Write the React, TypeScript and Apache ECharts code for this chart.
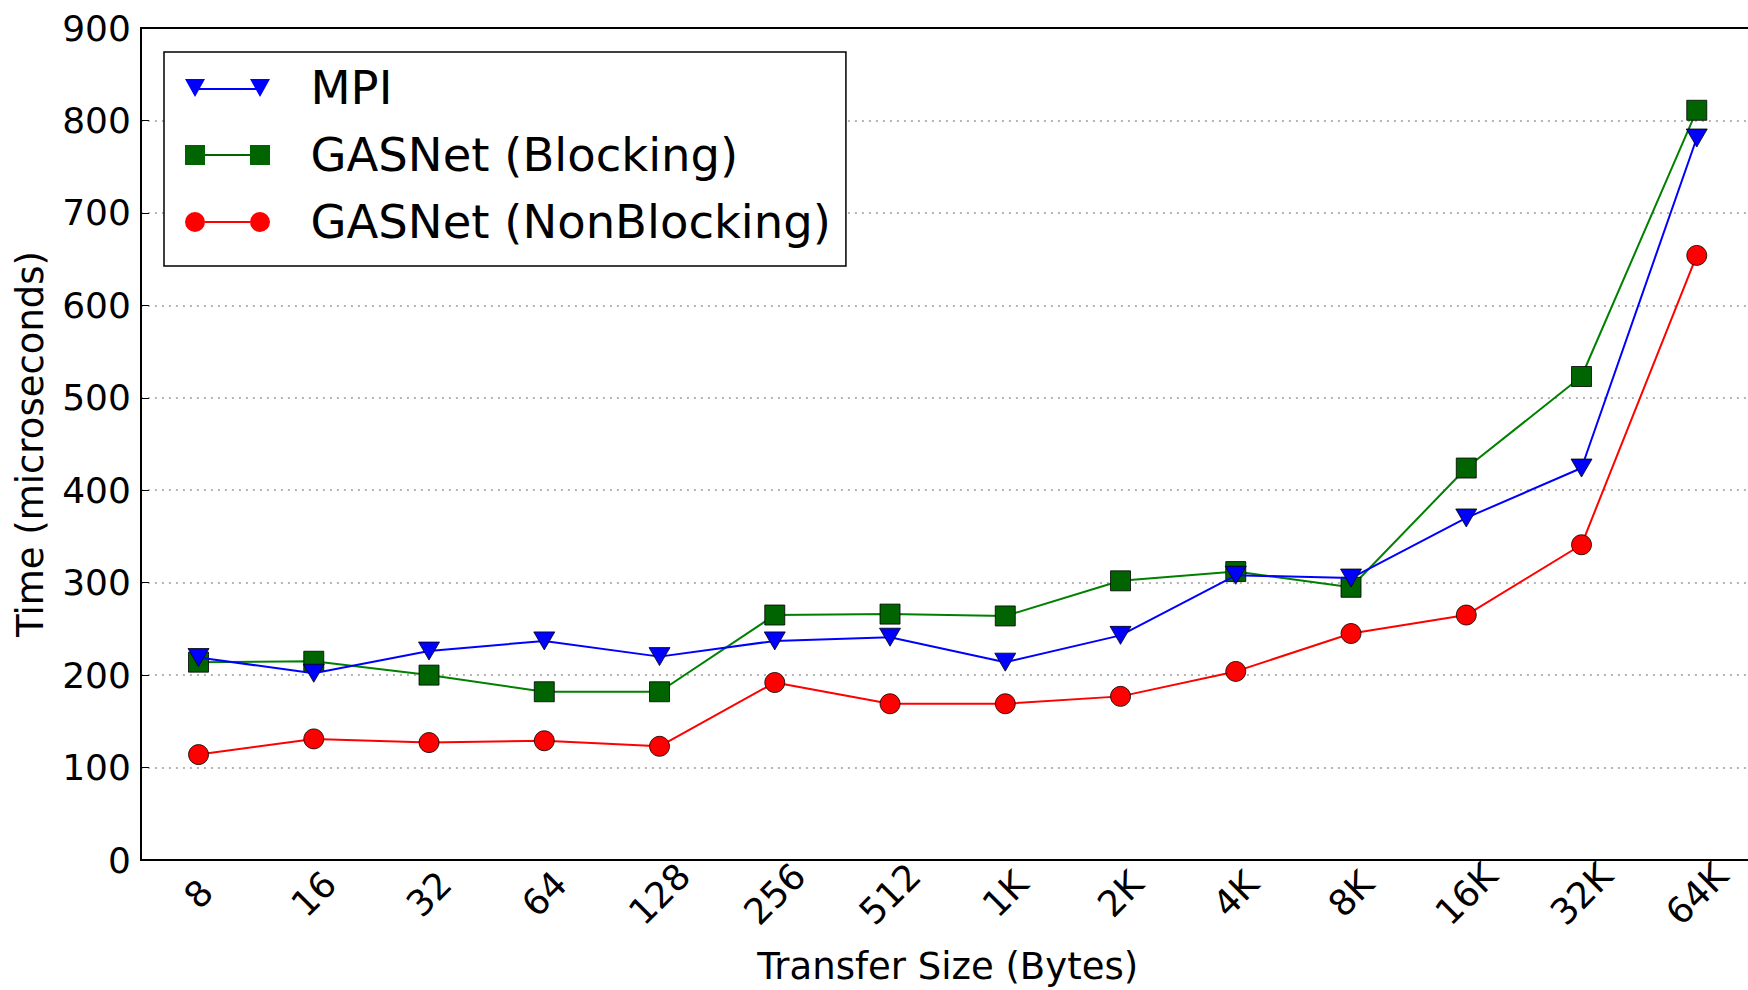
import React, { useEffect, useRef } from "react";
import * as echarts from "echarts";

const categories = ["8", "16", "32", "64", "128", "256", "512", "1K", "2K", "4K", "8K", "16K", "32K", "64K"];
const mpi = [219, 202, 226, 237, 220, 237, 241, 214, 243, 308, 305, 370, 424, 781];
const gasnetBlocking = [214, 215, 200, 182, 182, 265, 266, 264, 302, 312, 295, 424, 523, 811];
const gasnetNonBlocking = [114, 131, 127, 129, 123, 192, 169, 169, 177, 204, 245, 265, 341, 654];
const yTicks = { min: 0, max: 900, interval: 100 };

const FONT = "DejaVu Sans";

const triIcon = "path://M0,0 L20,0 L10,18 Z M10,9 L75,9 L75,11 L10,11 Z M65,0 L85,0 L75,18 Z";
const sqIcon = "path://M0,0 L20,0 L20,20 L0,20 Z M20,9 L65,9 L65,11 L20,11 Z M65,0 L85,0 L85,20 L65,20 Z";
const cirIcon =
  "path://M0,10 A10,10 0 1,0 20,10 A10,10 0 1,0 0,10 Z M20,9 L65,9 L65,11 L20,11 Z M65,10 A10,10 0 1,0 85,10 A10,10 0 1,0 65,10 Z";

export default function App() {
  const ref = useRef<HTMLDivElement>(null);
  useEffect(() => {
    if (!ref.current) return;
    const chart = echarts.init(ref.current, undefined, { renderer: "svg" });
    chart.setOption({
      animation: false,
      backgroundColor: "#ffffff",
      textStyle: { fontFamily: FONT },
      grid: { left: 140.9, top: 28, right: 1.6, bottom: 127.4, containLabel: false },
      legend: {
        orient: "vertical",
        left: 164,
        top: 52,
        padding: [11, 15, 19, 21],
        itemGap: 17,
        itemWidth: 85,
        itemHeight: 20,
        borderColor: "#000",
        borderWidth: 1.5,
        borderRadius: 0,
        backgroundColor: "#fff",
        itemStyle: { borderWidth: 0 },
        textStyle: { fontSize: 46.5, color: "#000", fontFamily: FONT, lineHeight: 50, padding: [0, 0, 0, 35.5] },
        data: [
          { name: "MPI", icon: triIcon },
          { name: "GASNet (Blocking)", icon: sqIcon },
          { name: "GASNet (NonBlocking)", icon: cirIcon },
        ],
      },
      xAxis: [
        {
          type: "category",
          data: categories,
          boundaryGap: true,
          name: "Transfer Size (Bytes)",
          nameLocation: "middle",
          nameGap: 88,
          nameTextStyle: { fontSize: 37, color: "#000", fontFamily: FONT },
          axisLine: { lineStyle: { color: "#000", width: 2 } },
          axisTick: { inside: true, alignWithLabel: true, length: 8, lineStyle: { color: "#000", width: 1 } },
          axisLabel: {
            rotate: 45,
            align: "center",
            verticalAlign: "middle",
            margin: 34,
            fontSize: 36,
            color: "#000",
            fontFamily: FONT,
            interval: 0,
          },
          splitLine: { show: false },
        },
        {
          type: "category",
          data: categories,
          position: "top",
          boundaryGap: true,
          axisLine: { lineStyle: { color: "#000", width: 2 } },
          axisTick: { inside: true, alignWithLabel: true, length: 8, lineStyle: { color: "#000", width: 1 } },
          axisLabel: { show: false },
          splitLine: { show: false },
        },
      ],
      yAxis: {
        type: "value",
        min: yTicks.min,
        max: yTicks.max,
        interval: yTicks.interval,
        name: "Time (microseconds)",
        nameLocation: "middle",
        nameGap: 92,
        nameTextStyle: { fontSize: 37, color: "#000", fontFamily: FONT },
        axisLine: { show: true, lineStyle: { color: "#000", width: 2 } },
        axisTick: { show: true, inside: true, length: 8, lineStyle: { color: "#000", width: 1 } },
        axisLabel: { fontSize: 36, color: "#000", fontFamily: FONT, margin: 10 },
        splitLine: { show: true, lineStyle: { color: "#9a9a9a", width: 1.5, type: [2, 5] } },
      },
      series: [
        {
          name: "MPI",
          type: "line",
          data: mpi,
          symbol: "triangle",
          symbolRotate: 180,
          symbolSize: [21, 18],
          lineStyle: { color: "#0000ff", width: 2 },
          itemStyle: { color: "#0000ff", borderColor: "#000", borderWidth: 0.8 },
          z: 3,
        },
        {
          name: "GASNet (Blocking)",
          type: "line",
          data: gasnetBlocking,
          symbol: "rect",
          symbolSize: 20,
          lineStyle: { color: "#008000", width: 2 },
          itemStyle: { color: "#006400", borderColor: "#000", borderWidth: 0.8 },
          z: 2,
        },
        {
          name: "GASNet (NonBlocking)",
          type: "line",
          data: gasnetNonBlocking,
          symbol: "circle",
          symbolSize: 20,
          lineStyle: { color: "#ff0000", width: 2 },
          itemStyle: { color: "#ff0000", borderColor: "#000", borderWidth: 0.8 },
          z: 4,
        },
      ],
    });
    return () => chart.dispose();
  }, []);
  return (
    <div style={{ width: 1748, height: 990, position: "absolute", left: 0, top: 0, overflow: "hidden" }}>
      <div ref={ref} style={{ width: 1756, height: 990 }} />
    </div>
  );
}
